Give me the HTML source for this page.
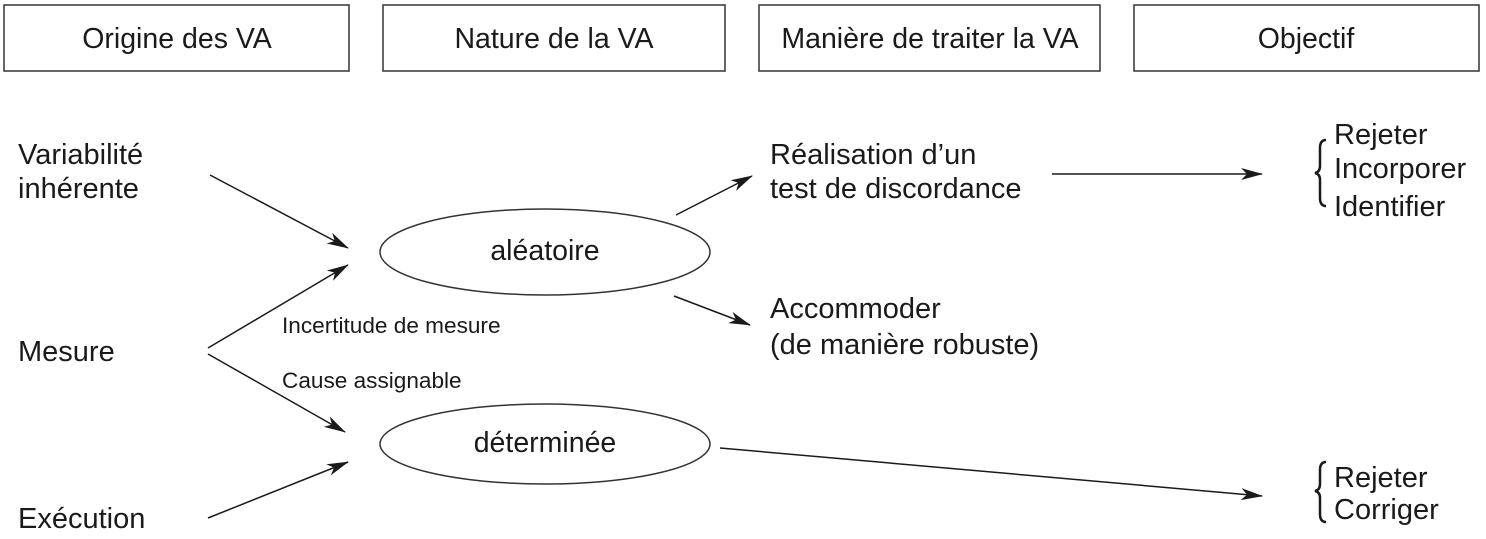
<!DOCTYPE html>
<html><head><meta charset="utf-8"><style>
body{margin:0;background:#fff}
svg text{font-family:"Liberation Sans",sans-serif;fill:#1a1a1a}
</style></head><body>
<svg width="1486" height="534" xmlns="http://www.w3.org/2000/svg">
<defs><marker id="a" markerWidth="22" markerHeight="12" refX="21" refY="6" orient="auto" markerUnits="userSpaceOnUse"><path d="M0,0 L22,6 L0,12 L6,6 z" fill="#1a1a1a"/></marker></defs>
<g fill="none" stroke="#333" stroke-width="1.5">
<rect x="4" y="5" width="345" height="66"/>
<rect x="383" y="5" width="342" height="66"/>
<rect x="759" y="5" width="341" height="66"/>
<rect x="1134" y="5" width="345" height="66"/>
<ellipse cx="545" cy="252" rx="165" ry="43"/>
<ellipse cx="545" cy="444" rx="165" ry="40"/>
</g>
<g stroke="#1a1a1a" stroke-width="1.5" marker-end="url(#a)">
<line x1="210" y1="175" x2="348" y2="248"/>
<line x1="208" y1="348" x2="348" y2="265"/>
<line x1="208" y1="354" x2="345" y2="432"/>
<line x1="208" y1="518" x2="348" y2="462"/>
<line x1="676" y1="215" x2="752" y2="176"/>
<line x1="674" y1="296" x2="750" y2="325"/>
<line x1="1052" y1="174" x2="1262" y2="174"/>
<line x1="720" y1="448" x2="1262" y2="496"/>
</g>
<g font-size="28.5" text-anchor="middle">
<text x="177" y="48">Origine des VA</text>
<text x="554" y="48">Nature de la VA</text>
<text x="930" y="48">Manière de traiter la VA</text>
<text x="1306" y="48">Objectif</text>
<text x="545" y="260">aléatoire</text>
<text x="545" y="452">déterminée</text>
</g>
<g font-size="29">
<text x="18" y="164">Variabilité</text>
<text x="18" y="198">inhérente</text>
<text x="18" y="361">Mesure</text>
<text x="18" y="528">Exécution</text>
<text x="770" y="164">Réalisation d’un</text>
<text x="770" y="198">test de discordance</text>
<text x="770" y="318">Accommoder</text>
<text x="770" y="354">(de manière robuste)</text>
<text x="1334" y="144">Rejeter</text>
<text x="1334" y="178">Incorporer</text>
<text x="1334" y="216">Identifier</text>
<text x="1334" y="487">Rejeter</text>
<text x="1334" y="519">Corriger</text>
</g>
<g font-size="22.6">
<text x="282" y="333">Incertitude de mesure</text>
<text x="282" y="388">Cause assignable</text>
</g>
<g fill="none" stroke="#1a1a1a" stroke-width="2.5">
<path d="M1326,140 Q1320,140 1320,148 L1320,166 Q1320,172 1315,173 Q1320,174 1320,180 L1320,198 Q1320,206 1326,206"/>
<path d="M1326,462 Q1320,462 1320,470 L1320,484 Q1320,490 1315,491 Q1320,492 1320,498 L1320,514 Q1320,522 1326,522"/>
</g>
</svg>
</body></html>
